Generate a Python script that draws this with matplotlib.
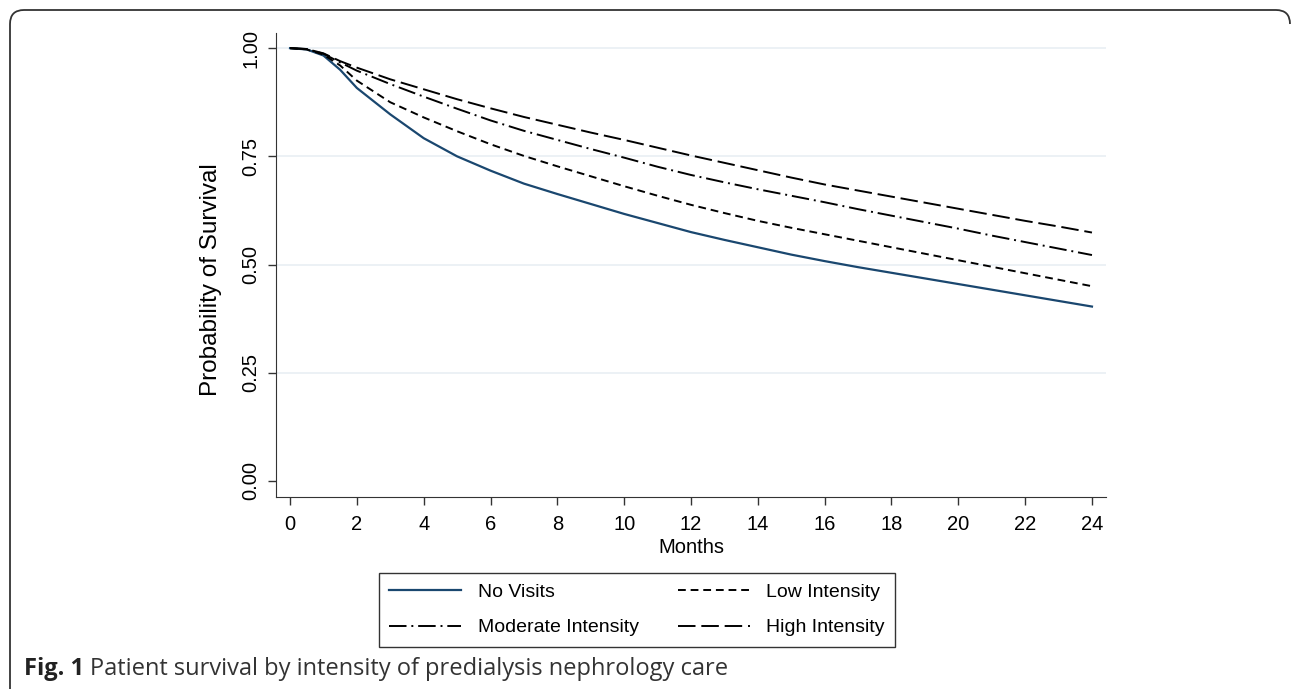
import matplotlib.pyplot as plt
from matplotlib.path import Path
from matplotlib.patches import PathPatch

plt.rcParams['font.family'] = ['Liberation Sans', 'DejaVu Sans']

months = [0, 0.5, 1, 1.5, 2] + list(range(3, 25))
no_visits = [1.0, 0.997, 0.983, 0.950, 0.908, 0.847, 0.792, 0.750, 0.717, 0.687, 0.663,
             0.640, 0.617, 0.596, 0.575, 0.557, 0.540, 0.523, 0.508, 0.494, 0.481,
             0.468, 0.455, 0.442, 0.429, 0.416, 0.403]
low_int = [1.0, 0.997, 0.985, 0.960, 0.925, 0.875, 0.840, 0.808, 0.778, 0.751, 0.727,
           0.704, 0.681, 0.659, 0.638, 0.619, 0.601, 0.585, 0.570, 0.555, 0.540,
           0.525, 0.510, 0.495, 0.480, 0.465, 0.450]
mod_int = [1.0, 0.998, 0.987, 0.967, 0.948, 0.917, 0.888, 0.860, 0.833, 0.809, 0.788,
           0.767, 0.747, 0.726, 0.707, 0.690, 0.674, 0.659, 0.644, 0.628, 0.613,
           0.598, 0.583, 0.567, 0.552, 0.537, 0.522]
high_int = [1.0, 0.998, 0.988, 0.970, 0.955, 0.928, 0.905, 0.882, 0.861, 0.841, 0.823,
            0.805, 0.788, 0.770, 0.752, 0.735, 0.718, 0.701, 0.685, 0.671, 0.657,
            0.643, 0.629, 0.615, 0.601, 0.588, 0.574]
labels = ['No Visits', 'Low Intensity', 'Moderate Intensity', 'High Intensity']

W, H = 1292, 689
fig = plt.figure(figsize=(W / 100, H / 100), dpi=100)
ax = fig.add_axes([276 / W, 1 - 497 / H, (1106 - 276) / W, (497 - 33) / H])

l1, = ax.plot(months, no_visits, color='#1a476f', lw=1.6)
l2, = ax.plot(months, low_int, color='black', lw=1.4, dashes=(4, 2.5))
l3, = ax.plot(months, mod_int, color='black', lw=1.4, dashes=(9, 2.5, 1, 2.5))
l4, = ax.plot(months, high_int, color='black', lw=1.4, dashes=(9, 3))

ax.set_xlim(-0.42, 24.42)
ax.set_ylim(-0.037, 1.035)
ax.set_xticks(range(0, 25, 2))
ax.set_yticks([0, 0.25, 0.5, 0.75, 1.0])
ax.set_yticklabels(['0.00', '0.25', '0.50', '0.75', '1.00'], rotation=90, va='center')
for v in [0.25, 0.5, 0.75, 1.0]:
    ax.axhline(v, color='#eaf0f4', lw=1.3, zorder=0)
ax.tick_params(labelsize=14.5, length=6, width=1, color='#333333')
ax.tick_params(axis='x', pad=7)
ax.tick_params(axis='y', pad=5)
for s in ['top', 'right']:
    ax.spines[s].set_visible(False)
for s in ['left', 'bottom']:
    ax.spines[s].set_color('#333333')
ax.set_xlabel('Months', fontsize=14.5, labelpad=3)
ax.set_ylabel('Probability of Survival', fontsize=17.5)
ax.yaxis.set_label_coords(-0.065, 0.468)

# column-wise fill: left column No Visits / Moderate, right column Low / High
leg = fig.legend([l1, l3, l2, l4], [labels[0], labels[2], labels[1], labels[3]],
                 loc='center', bbox_to_anchor=(637 / W, 1 - 610 / H), ncol=2,
                 fontsize=14, handlelength=3.7, handletextpad=0.85, columnspacing=2.0,
                 frameon=True, fancybox=False, edgecolor='black', borderpad=0.55,
                 labelspacing=0.9)
leg.get_frame().set_linewidth(1)

# rounded frame around the figure (open at the bottom)
r = 14
verts = [(1290, 10 + r), (1290, 10), (1290 - r, 10), (10 + r, 10), (10, 10), (10, 10 + r), (10, 700)]
codes = [Path.MOVETO, Path.CURVE3, Path.CURVE3, Path.LINETO, Path.CURVE3, Path.CURVE3, Path.LINETO]
verts = [(x / W, 1 - y / H) for x, y in verts]
fig.patches.append(PathPatch(Path(verts, codes), fill=False, lw=1.3, edgecolor='#333333',
                             transform=fig.transFigure))

t1 = fig.text(24 / W, 1 - 669 / H, 'Fig. 1', fontsize=17, fontweight='bold',
              family='Open Sans', color='#222222', va='center')
fig.canvas.draw()
bb = t1.get_window_extent()
fig.text((bb.x1 + 6) / W, 1 - 669 / H, 'Patient survival by intensity of predialysis nephrology care',
         fontsize=17, family='Open Sans', color='#333333', va='center')

fig.savefig('out.png', dpi=100)
